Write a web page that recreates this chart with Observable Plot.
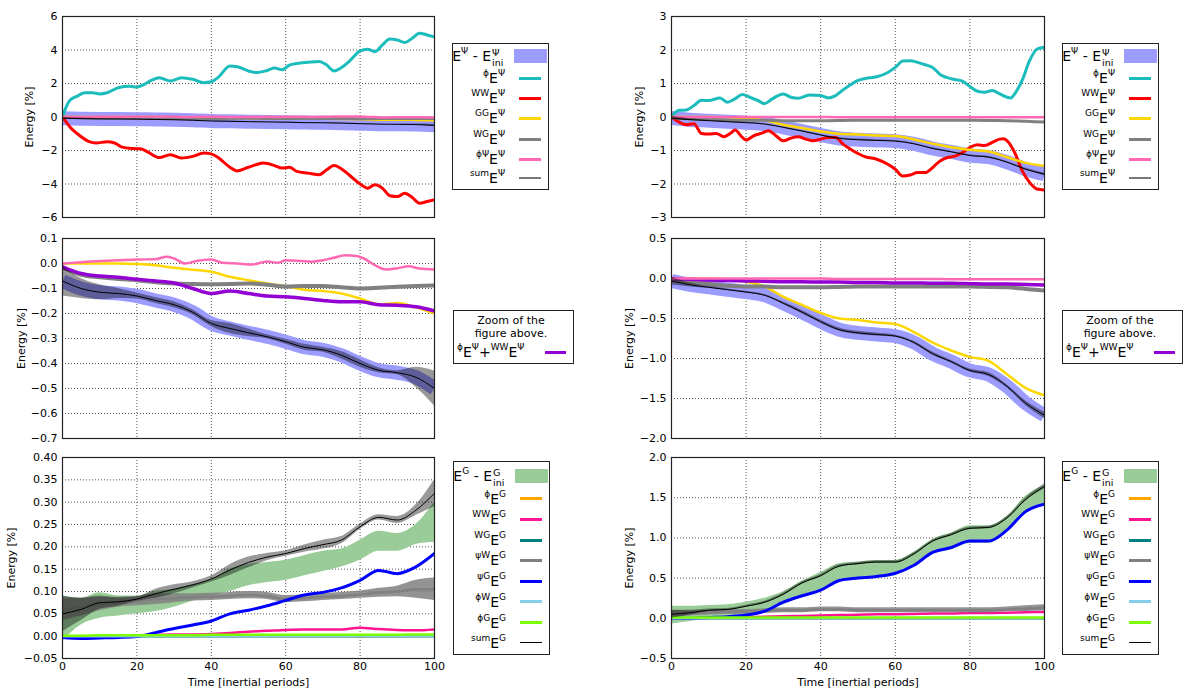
<!DOCTYPE html>
<html><head><meta charset="utf-8">
<script src="https://cdn.jsdelivr.net/npm/d3@7"></script>
<script src="https://cdn.jsdelivr.net/npm/@observablehq/plot@0.6"></script>
<style>
body{margin:0;background:#fff;font-family:"DejaVu Sans",sans-serif;}
#fig{position:relative;width:1188px;height:693px;overflow:hidden;background:#fff;}
.pn{position:absolute;}
.pn svg{overflow:visible;}
.leg{position:absolute;border:1px solid #222;background:#fff;box-sizing:border-box;}
.lab{position:absolute;white-space:nowrap;font-size:14px;line-height:16px;color:#000;font-family:"DejaVu Sans",sans-serif;}
.lab sup{font-size:9px;vertical-align:7px;line-height:0;}
.stk{display:inline-block;position:relative;width:14px;height:0;}
.stk span{position:absolute;left:1px;font-size:9.5px;line-height:9px;}
.txt{position:absolute;white-space:nowrap;font-size:11px;line-height:12px;transform:translateX(-50%);}
.smp{position:absolute;}
</style></head><body><div id="fig"></div>
<script>
// ---------------- DATA ----------------
const T5 = [0,5,10,15,20,25,30,35,40,45,50,55,60,65,70,75,80,85,90,95,100];
const xTicks = [0,20,40,60,80,100];

// Left column, Psi (wave) energy
const tCyanL = [0,1,2,4,6,8,10,12,15,18,20,22,24,26,29,32,35,38,40,42,45,47,50,52,55,57,59,61,63,66,69,71,73,75,77,80,82,84,86,88,90,92,94,96,98,100];
const cyanL  = [0,0.6,1.0,1.25,1.45,1.45,1.38,1.45,1.75,1.83,1.78,1.95,2.2,2.35,2.15,2.35,2.25,2.05,2.1,2.4,3.05,3.0,2.75,2.65,2.78,2.92,2.82,3.1,3.2,3.27,3.32,3.1,2.75,2.95,3.3,3.95,4.05,3.9,4.3,4.65,4.6,4.45,4.7,5.0,4.9,4.78];
const tRedL = [0,1,2,4,7,9,12,14,16,19,21,23,26,29,32,35,38,40,42,45,47,50,52,54,57,59,61,63,66,69,71,73,75,77,80,82,84,86,88,90,92,94,96,98,100];
const redL  = [0,-0.3,-0.6,-1.0,-1.45,-1.55,-1.48,-1.55,-1.8,-1.88,-1.9,-2.1,-2.42,-2.25,-2.45,-2.35,-2.15,-2.2,-2.45,-3.0,-3.22,-3.0,-2.85,-2.75,-2.9,-3.05,-3.0,-3.25,-3.35,-3.45,-3.15,-2.9,-3.1,-3.45,-4.0,-4.25,-4.05,-4.25,-4.7,-4.75,-4.55,-4.8,-5.15,-5.05,-4.95];
const sumPsiL = [-0.07,-0.1,-0.115,-0.12,-0.13,-0.148,-0.165,-0.195,-0.24,-0.26,-0.277,-0.293,-0.313,-0.335,-0.345,-0.367,-0.4,-0.427,-0.437,-0.455,-0.5];
const ampPsiL = [0.06,0.04,0.03,0.02,0.012,0.012,0.012,0.01,0.012,0.02,0.015,0.008,0.01,0.012,0.01,0.015,0.015,0.01,0.008,0.04,0.07];
const ggPsiL  = [0,0,0,0,-0.002,-0.007,-0.017,-0.025,-0.033,-0.053,-0.067,-0.08,-0.09,-0.105,-0.11,-0.12,-0.14,-0.163,-0.158,-0.175,-0.2];
const wgPsiL  = [-0.015,-0.045,-0.055,-0.062,-0.067,-0.075,-0.08,-0.082,-0.083,-0.082,-0.08,-0.085,-0.092,-0.09,-0.09,-0.095,-0.1,-0.097,-0.093,-0.09,-0.088];
const phiWWL  = [-0.013,-0.04,-0.05,-0.055,-0.063,-0.07,-0.078,-0.1,-0.12,-0.11,-0.12,-0.13,-0.133,-0.14,-0.148,-0.153,-0.153,-0.165,-0.167,-0.173,-0.19];
const tPhiPsiL = [0,5,10,15,20,25,28,30,33,36,40,43,47,51,55,58,60,64,67,70,73,76,79,81,84,87,90,93,96,100];
const phiPsiL  = [0,0.005,0.01,0.013,0.016,0.017,0.027,0.02,0,0.01,0.016,0.003,0,-0.004,0.008,0.003,0.013,0.01,0.007,0.013,0.023,0.033,0.03,0.02,-0.007,-0.024,-0.019,-0.011,-0.02,-0.024];

// Right column, Psi (wave) energy
const tCyanR = [0,2,4,6,8,10,13,15,17,19,21,23,25,27,30,32,34,37,40,42,44,46,48,50,52,55,58,60,62,64,66,68,70,72,75,78,80,82,84,86,88,90,91,92,94,96,98,100];
const cyanR  = [0,0.2,0.21,0.34,0.5,0.49,0.57,0.44,0.54,0.67,0.59,0.5,0.4,0.54,0.69,0.59,0.56,0.66,0.64,0.57,0.64,0.81,0.96,1.09,1.15,1.2,1.33,1.48,1.67,1.68,1.63,1.56,1.48,1.27,1.14,1.07,0.91,0.77,0.74,0.79,0.69,0.59,0.57,0.69,1.09,1.68,2.03,2.08];
const tRedR = [0,2,4,6,8,10,12,14,16,17,19,20,22,24,26,28,30,32,34,36,38,40,42,44,46,48,50,52,55,58,60,62,64,66,68,70,72,74,76,78,80,82,84,86,88,89,90,92,94,96,98,100];
const redR  = [0,-0.15,-0.23,-0.2,-0.49,-0.51,-0.49,-0.59,-0.47,-0.39,-0.61,-0.69,-0.56,-0.49,-0.41,-0.56,-0.71,-0.63,-0.59,-0.66,-0.71,-0.66,-0.61,-0.61,-0.81,-0.96,-1.09,-1.19,-1.26,-1.41,-1.56,-1.76,-1.73,-1.66,-1.66,-1.51,-1.31,-1.21,-1.17,-1.06,-0.91,-0.83,-0.85,-0.76,-0.66,-0.65,-0.71,-1.06,-1.6,-1.95,-2.15,-2.18];
const sumPsiR = [-0.03,-0.08,-0.11,-0.14,-0.17,-0.21,-0.31,-0.42,-0.54,-0.64,-0.68,-0.7,-0.72,-0.8,-0.94,-1.04,-1.15,-1.2,-1.35,-1.56,-1.71];
const ampPsiR = [0.05,0.025,0.012,0.01,0.01,0.01,0.015,0.02,0.02,0.02,0.02,0.02,0.015,0.015,0.02,0.015,0.02,0.025,0.02,0.03,0.04];
const ggPsiR  = [0,0,0,-0.01,-0.04,-0.1,-0.23,-0.33,-0.43,-0.5,-0.52,-0.55,-0.57,-0.67,-0.8,-0.9,-0.98,-1.03,-1.2,-1.37,-1.46];
const wgPsiR  = [-0.02,-0.05,-0.07,-0.09,-0.1,-0.1,-0.11,-0.11,-0.11,-0.105,-0.1,-0.1,-0.1,-0.1,-0.1,-0.1,-0.1,-0.105,-0.11,-0.13,-0.15];
const phiWWR  = [0,-0.01,-0.02,-0.025,-0.03,-0.035,-0.04,-0.04,-0.045,-0.045,-0.05,-0.05,-0.055,-0.055,-0.06,-0.06,-0.065,-0.07,-0.07,-0.075,-0.08];
const phiPsiR = [0,0,0,0,0,0,0,0,0,-0.005,-0.005,-0.005,-0.005,-0.005,-0.005,-0.01,-0.01,-0.01,-0.01,-0.01,-0.01];

// Left column, G (geostrophic) energy
const bandGLlo = [-0.012,0.025,0.04,0.045,0.05,0.055,0.065,0.078,0.09,0.1,0.113,0.12,0.125,0.135,0.145,0.155,0.17,0.19,0.19,0.205,0.21];
const bandGLhi = [0.09,0.085,0.097,0.09,0.09,0.1,0.105,0.115,0.125,0.15,0.16,0.165,0.17,0.18,0.19,0.195,0.215,0.235,0.23,0.25,0.3];
const phiEGL = [0,0,0,0,0,0,0,0,0,0,0,0,0,0,0,0,-0.002,0,0,0,0];
const wwGL   = [0,0,0,0.001,0.002,0.003,0.004,0.004,0.005,0.007,0.01,0.012,0.014,0.015,0.015,0.015,0.019,0.016,0.014,0.013,0.015];
const wgGL   = [0,0,0,0,0,0,0,0,0,0,0,0,0,0,0,0,0,0,0,0,0];
const psiWL  = [0.06,0.065,0.072,0.075,0.078,0.083,0.085,0.087,0.088,0.09,0.092,0.09,0.083,0.085,0.088,0.09,0.093,0.097,0.1,0.105,0.105];
const ampPsiWL = [0.025,0.02,0.015,0.01,0.01,0.012,0.01,0.008,0.008,0.008,0.008,0.008,0.008,0.008,0.008,0.008,0.008,0.01,0.012,0.02,0.025];
const psiGL  = [-0.003,-0.005,-0.004,-0.003,-0.001,0.008,0.017,0.025,0.034,0.05,0.058,0.068,0.08,0.092,0.098,0.108,0.125,0.147,0.14,0.155,0.185];
const phiWL  = [0,0,0,0,0,0,0,0,0,0,0,0,0,0,0,0,0,0,0,0,0];
const phiGL  = [0.001,0.001,0.002,0.002,0.002,0.002,0.002,0.002,0.003,0.003,0.003,0.003,0.003,0.003,0.003,0.003,0.003,0.003,0.003,0.004,0.004];
const sumGL  = [0.05,0.06,0.075,0.077,0.083,0.095,0.105,0.115,0.128,0.148,0.165,0.177,0.185,0.196,0.205,0.215,0.245,0.266,0.26,0.282,0.32];
const ampGL  = [0.04,0.025,0.015,0.01,0.005,0.01,0.01,0.007,0.007,0.012,0.012,0.008,0.006,0.008,0.01,0.008,0.006,0.006,0.008,0.012,0.03];

// Right column, G (geostrophic) energy
const bandGRlo = [-0.07,-0.04,-0.01,0,0.03,0.07,0.17,0.26,0.33,0.45,0.48,0.5,0.53,0.64,0.8,0.85,0.93,0.93,1.07,1.3,1.4];
const bandGRhi = [0.15,0.15,0.16,0.17,0.2,0.25,0.33,0.46,0.57,0.68,0.7,0.72,0.72,0.82,0.98,1.06,1.15,1.15,1.27,1.52,1.65];
const phiEGR = [0,0,0,0,0,0,0,0,0,0,0,0,0,0,0,0,0,0,0,0,0];
const wwGR   = [0,0,0.005,0.01,0.015,0.02,0.025,0.03,0.035,0.04,0.045,0.05,0.05,0.055,0.06,0.06,0.065,0.065,0.07,0.075,0.08];
const wgGR   = [0,0,0,0,0,0,0,0,0,0,0,0,0,0,0,0,0,0,0,0,0];
const psiWR  = [0.05,0.06,0.07,0.08,0.08,0.09,0.1,0.1,0.11,0.11,0.1,0.1,0.1,0.1,0.1,0.1,0.1,0.1,0.11,0.12,0.13];
const ampPsiWR = [0.05,0.03,0.03,0.03,0.03,0.03,0.03,0.03,0.03,0.03,0.03,0.03,0.03,0.03,0.03,0.03,0.03,0.03,0.03,0.035,0.04];
const psiGR  = [0,0,0.01,0.02,0.04,0.09,0.2,0.28,0.35,0.47,0.5,0.52,0.56,0.66,0.82,0.88,0.96,0.96,1.1,1.33,1.42];
const phiWR  = [0,0,0,0,0,0,0,0,0,0,0,0,0,0,0,0,0,0,0,0,0];
const phiGR  = [0.01,0.01,0.01,0.01,0.01,0.01,0.01,0.01,0.01,0.01,0.01,0.01,0.01,0.01,0.01,0.01,0.01,0.01,0.01,0.01,0.01];
const sumGR  = [0.05,0.07,0.1,0.11,0.15,0.2,0.3,0.44,0.53,0.65,0.68,0.7,0.7,0.8,0.96,1.04,1.12,1.13,1.25,1.48,1.64];
const ampGR  = [0.05,0.03,0.015,0.012,0.012,0.012,0.015,0.015,0.015,0.015,0.015,0.015,0.015,0.015,0.015,0.015,0.015,0.015,0.015,0.02,0.03];

// Axis ticks
const yTicksTL = [-6,-4,-2,0,2,4,6];
const yTicksML = [-0.7,-0.6,-0.5,-0.4,-0.3,-0.2,-0.1,0,0.1];
const yTicksBL = [-0.05,0,0.05,0.1,0.15,0.2,0.25,0.3,0.35,0.4];
const yTicksTR = [-3,-2,-1,0,1,2,3];
const yTicksMR = [-2,-1.5,-1,-0.5,0,0.5];
const yTicksBR = [-0.5,0,0.5,1,1.5,2];

// Legend labels
const psiRows = [["ϕ","Ψ"],["WW","Ψ"],["GG","Ψ"],["WG","Ψ"],["ϕΨ","Ψ"],["sum","Ψ"]];
const gRows = [["ϕ","G"],["WW","G"],["WG","G"],["ψW","G"],["ψG","G"],["ϕW","G"],["ϕG","G"],["sum","G"]];

// ---------------- STYLE ----------------
const C = {band:"#9c9cff", cyan:"#1cbcbc", red:"#ff0000", gold:"#ffd700", gray:"#808080", hot:"#ff69b4",
  purple:"#9400d3", green:"#99cc99", orange:"#ffa500", deep:"#ff1493", teal:"#008080", blue:"#0000ff", sky:"#87ceeb", lime:"#7cfc00"};

const fig = document.getElementById("fig");
function place(node, left, top){ const d=document.createElement("div"); d.className="pn"; d.style.left=left+"px"; d.style.top=top+"px"; d.appendChild(node); fig.appendChild(d); }
const pts = (ts, vs) => ts.map((t,i)=>({t, v:vs[i]}));
const curve = "monotone-x";
const L = (ts, vs, stroke, strokeWidth, o={}) => Plot.line(pts(ts,vs), {x:"t", y:"v", stroke, strokeWidth, curve, clip:true, ...o});
const A = (ts, lo, hi, fill, o={}) => Plot.areaY(ts.map((t,i)=>({t, lo:lo[i], hi:hi[i]})), {x:"t", y1:"lo", y2:"hi", fill, curve, clip:true, ...o});
const env = (ts, c, a, fill, op) => A(ts, c.map((v,i)=>v-a[i]), c.map((v,i)=>v+a[i]), fill, {fillOpacity:op});

function panel({left, top, width, height, ml, mr, mt, mb, yTicks, yFmt, yLabelOffset, xAxis, marks}){
  const grid = {stroke:"#000", strokeOpacity:0.85, strokeWidth:0.8, strokeDasharray:"1,2"};
  const all = [
    Plot.gridX(xTicks, grid),
    Plot.gridY(yTicks, grid),
    ...marks,
    Plot.frame({stroke:"#222", strokeWidth:1.2}),
    Plot.axisY(yTicks, {tickSize:0, tickPadding:5, tickFormat:d3.format(yFmt), label:"Energy [%]", labelAnchor:"center", labelOffset:yLabelOffset, labelArrow:"none"})
  ];
  if (xAxis) all.push(Plot.axisX(xTicks, {tickSize:0, tickPadding:4, tickFormat:d3.format("d"), label:"Time [inertial periods]", labelAnchor:"center", labelOffset:27, labelArrow:"none"}));
  const svg = Plot.plot({width, height, marginLeft:ml, marginRight:mr, marginTop:mt, marginBottom:mb,
    x:{domain:[0,100], axis: xAxis ? undefined : null},
    y:{domain:[yTicks[0], yTicks[yTicks.length-1]]},
    style:{fontFamily:"DejaVu Sans", fontSize:"11px", color:"#000", background:"transparent"},
    marks: all});
  place(svg, left, top);
}

const psiTopMarks = (sum, amp, gg, wg, tPP, pp, tC, cy, tR, rd) => [
  L(T5, sum, C.band, 14, {strokeLinecap:"butt"}),
  L(tC, cy, C.cyan, 3),
  L(tR, rd, C.red, 3),
  L(T5, gg, C.gold, 2.5),
  L(T5, wg, C.gray, 3),
  L(tPP, pp, C.hot, 2.5),
  env(T5, sum, amp, "#000", 0.4),
  L(T5, sum, "#000", 1)
];
const psiMidMarks = (sum, amp, gg, wg, pw, tPP, pp) => [
  L(T5, sum, C.band, 14, {strokeLinecap:"butt"}),
  L(T5, gg, C.gold, 2.5),
  L(T5, wg, C.gray, 4),
  L(T5, pw, C.purple, 3.5),
  L(tPP, pp, C.hot, 2.5),
  env(T5, sum, amp, "#000", 0.4),
  L(T5, sum, "#000", 1)
];
const gMarks = (lo, hi, phiE, ww, wg, pw, apw, pg, phiW, phiG, sum, amp) => [
  A(T5, lo, hi, C.green),
  L(T5, phiE, C.orange, 2.5),
  L(T5, ww, C.deep, 2.5),
  L(T5, wg, C.teal, 2.5),
  env(T5, pw, apw, C.gray, 0.85),
  L(T5, pw, C.gray, 2.5),
  L(T5, pg, C.blue, 3),
  L(T5, phiW, C.sky, 2.5),
  L(T5, phiG, C.lime, 2.5),
  env(T5, sum, amp, "#000", 0.4),
  L(T5, sum, "#000", 1)
];

// Left column
panel({left:0, top:0, width:445, height:226, ml:62, mr:11, mt:16, mb:9, yTicks:yTicksTL, yFmt:"d", yLabelOffset:37,
  marks: psiTopMarks(sumPsiL, ampPsiL, ggPsiL, wgPsiL, tPhiPsiL, phiPsiL, tCyanL, cyanL, tRedL, redL)});
panel({left:0, top:226, width:445, height:220, ml:62, mr:11, mt:12, mb:8, yTicks:yTicksML, yFmt:".1f", yLabelOffset:45,
  marks: psiMidMarks(sumPsiL, ampPsiL, ggPsiL, wgPsiL, phiWWL, tPhiPsiL, phiPsiL)});
panel({left:0, top:446, width:445, height:247, ml:62, mr:11, mt:11, mb:35, yTicks:yTicksBL, yFmt:".2f", yLabelOffset:55, xAxis:true,
  marks: gMarks(bandGLlo, bandGLhi, phiEGL, wwGL, wgGL, psiWL, ampPsiWL, psiGL, phiWL, phiGL, sumGL, ampGL)});
// Right column
panel({left:600, top:0, width:455, height:226, ml:71, mr:11, mt:16, mb:9, yTicks:yTicksTR, yFmt:"d", yLabelOffset:36.5,
  marks: psiTopMarks(sumPsiR, ampPsiR, ggPsiR, wgPsiR, T5, phiPsiR, tCyanR, cyanR, tRedR, redR)});
panel({left:600, top:226, width:455, height:220, ml:71, mr:11, mt:12, mb:8, yTicks:yTicksMR, yFmt:".1f", yLabelOffset:46.5,
  marks: psiMidMarks(sumPsiR, ampPsiR, ggPsiR, wgPsiR, phiWWR, T5, phiPsiR)});
panel({left:600, top:446, width:455, height:247, ml:71, mr:11, mt:11, mb:35, yTicks:yTicksBR, yFmt:".1f", yLabelOffset:46.5, xAxis:true,
  marks: gMarks(bandGRlo, bandGRhi, phiEGR, wwGR, wgGR, psiWR, ampPsiWR, psiGR, phiWR, phiGR, sumGR, ampGR)});

// ---------------- LEGENDS ----------------
function box(left, top, w, h){ const d=document.createElement("div"); d.className="leg"; Object.assign(d.style,{left:left+"px", top:top+"px", width:w+"px", height:h+"px"}); fig.appendChild(d); return d; }
function label(b, html, rightX, y){ const s=document.createElement("div"); s.className="lab"; s.innerHTML=html; s.style.left=rightX+"px"; s.style.top=(y-8)+"px"; s.style.transform="translateX(-100%)"; b.appendChild(s); }
function sample(b, x, y, w, h, color){ const s=document.createElement("div"); s.className="smp"; Object.assign(s.style,{left:x+"px", top:(y-h/2)+"px", width:w+"px", height:h+"px", background:color}); b.appendChild(s); }
const bandLabel = s => `E<sup>${s}</sup> - E<span class="stk"><span style="top:-13px">${s}</span><span style="top:-3.5px">ini</span></span>`;
const rowLabel = ([a,b]) => `<sup>${a}</sup>E<sup>${b}</sup>`;

function psiLegend(left){
  const b = box(left, 43, 97, 147);
  label(b, bandLabel("Ψ"), 52, 12);
  sample(b, 61, 12, 33, 14, C.band);
  const ys=[34,54,74,95,115,134], cols=[C.cyan,C.red,C.gold,C.gray,C.hot,"#777"], ws=[3,3,3,3,3,2.3];
  psiRows.forEach((r,i)=>{ label(b, rowLabel(r), 52, ys[i]); sample(b, 66, ys[i], 22, ws[i], cols[i]); });
}
function midLegend(left){
  const b = box(left, 310, 121, 54);
  const t1=document.createElement("div"); t1.className="txt"; t1.textContent="Zoom of the"; t1.style.left="57px"; t1.style.top="4px"; b.appendChild(t1);
  const t2=document.createElement("div"); t2.className="txt"; t2.textContent="figure above."; t2.style.left="57px"; t2.style.top="17px"; b.appendChild(t2);
  const s=document.createElement("div"); s.className="lab"; s.innerHTML=`<sup>ϕ</sup>E<sup>Ψ</sup>+<sup>WW</sup>E<sup>Ψ</sup>`; s.style.left="3px"; s.style.top="33px"; b.appendChild(s);
  sample(b, 91, 41, 21, 3, C.purple);
}
function gLegend(left){
  const b = box(left, 461, 97, 194);
  label(b, bandLabel("G"), 52, 14);
  sample(b, 61, 14, 33, 14, C.green);
  const ys=[36.7,57.3,78,98.3,119,139.7,160.7,180.7], cols=[C.orange,C.deep,C.teal,C.gray,C.blue,C.sky,C.lime,"#000"], ws=[3,3,3,3,3,3,3,1.3];
  gRows.forEach((r,i)=>{ label(b, rowLabel(r), 52, ys[i]); sample(b, 66, ys[i], 22, ws[i], cols[i]); });
}
psiLegend(452); psiLegend(1062);
midLegend(453); midLegend(1062);
gLegend(453); gLegend(1062);
</script>
</body></html>
